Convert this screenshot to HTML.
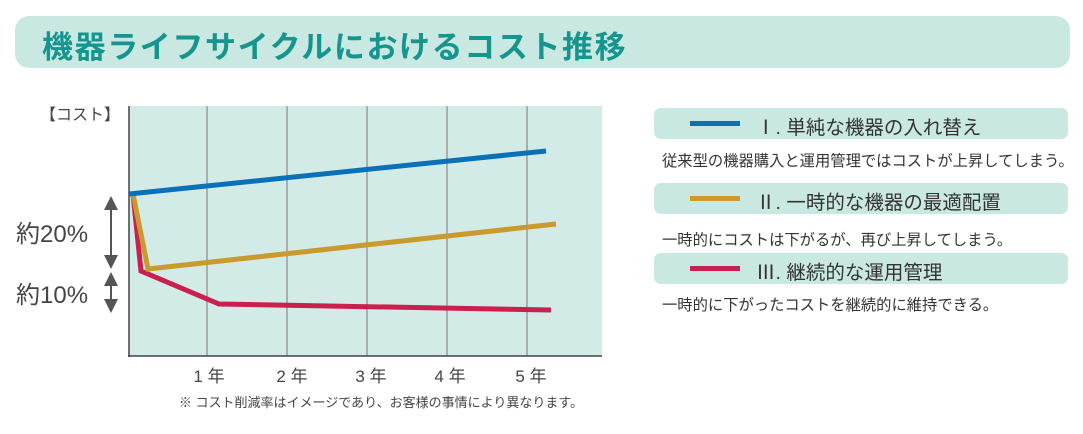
<!DOCTYPE html>
<html><head><meta charset="utf-8"><style>
body{margin:0;width:1083px;height:434px;background:#fff;position:relative;overflow:hidden;font-family:"Liberation Sans","Noto Sans CJK JP",sans-serif;color:#333}
.t{position:absolute;left:15px;top:16px;width:1055px;height:52px;background:#c9e8e1;border-radius:14px}
.t span{position:absolute;left:27px;top:6px;font-size:31px;font-weight:bold;color:#16958f;letter-spacing:1.6px}
.lg{position:absolute;left:654px;width:414px;height:31px;background:#c9e8e1;border-radius:7px}
.lg i{position:absolute;left:36px;top:13px;width:50px;height:5px}
.lg span{position:absolute;left:102px;top:3px;font-size:19.5px;color:#333}
.d{position:absolute;left:662px;font-size:15.3px;color:#333}
</style></head><body>
<div class="t"><span>機器ライフサイクルにおけるコスト推移</span></div>
<svg width="1083" height="434" style="position:absolute;left:0;top:0">
<rect x="129" y="106" width="473" height="250" fill="#d3ebe6"/>
<g stroke="#888" stroke-width="1.2">
<line x1="207" y1="106" x2="207" y2="356"/><line x1="287" y1="106" x2="287" y2="356"/><line x1="367" y1="106" x2="367" y2="356"/><line x1="447" y1="106" x2="447" y2="356"/><line x1="527" y1="106" x2="527" y2="356"/></g>
<line x1="129" y1="106" x2="129" y2="357" stroke="#444" stroke-width="1.5"/>
<line x1="128" y1="356" x2="602" y2="356" stroke="#444" stroke-width="1.5"/>
<polyline points="133,194 141,271 219,304 551,310" fill="none" stroke="#c8204f" stroke-width="5"/>
<polyline points="133,194 148,269 556,224" fill="none" stroke="#c99a2e" stroke-width="5"/>
<line x1="129" y1="194" x2="546" y2="151" stroke="#0a70b8" stroke-width="5"/>
<g stroke="#555" stroke-width="2"><line x1="111" y1="200" x2="111" y2="264"/><line x1="111" y1="276" x2="111" y2="308"/></g>
<g fill="#555"><polygon points="104,210 118,210 111,196"/><polygon points="104,255 118,255 111,269"/><polygon points="104,286 118,286 111,272"/><polygon points="104,299 118,299 111,313"/></g>
<g font-size="17" fill="#444" text-anchor="middle" font-family="Liberation Sans,Noto Sans CJK JP,sans-serif">
<text x="209" y="382">1 年</text><text x="292" y="382">2 年</text><text x="371" y="382">3 年</text><text x="450" y="382">4 年</text><text x="531" y="382">5 年</text></g>
<text x="381" y="407" font-size="13" fill="#444" text-anchor="middle" font-family="Liberation Sans,Noto Sans CJK JP,sans-serif">※ コスト削減率はイメージであり、お客様の事情により異なります。</text>
<text x="40" y="120" font-size="16" fill="#444" font-family="Liberation Sans,Noto Sans CJK JP,sans-serif">【コスト】</text>
<text x="16" y="242" font-size="24" fill="#444" font-family="Liberation Sans,Noto Sans CJK JP,sans-serif">約20%</text>
<text x="16" y="303" font-size="24" fill="#444" font-family="Liberation Sans,Noto Sans CJK JP,sans-serif">約10%</text>
</svg>
<div class="lg" style="top:108px"><i style="background:#0a70b8"></i><span>Ⅰ. 単純な機器の入れ替え</span></div>
<div class="d" style="top:149px">従来型の機器購入と運用管理ではコストが上昇してしまう。</div>
<div class="lg" style="top:183px"><i style="background:#c99a2e"></i><span>Ⅱ. 一時的な機器の最適配置</span></div>
<div class="d" style="top:228px">一時的にコストは下がるが、再び上昇してしまう。</div>
<div class="lg" style="top:253px"><i style="background:#c8204f"></i><span>Ⅲ. 継続的な運用管理</span></div>
<div class="d" style="top:293px">一時的に下がったコストを継続的に維持できる。</div>
</body></html>
